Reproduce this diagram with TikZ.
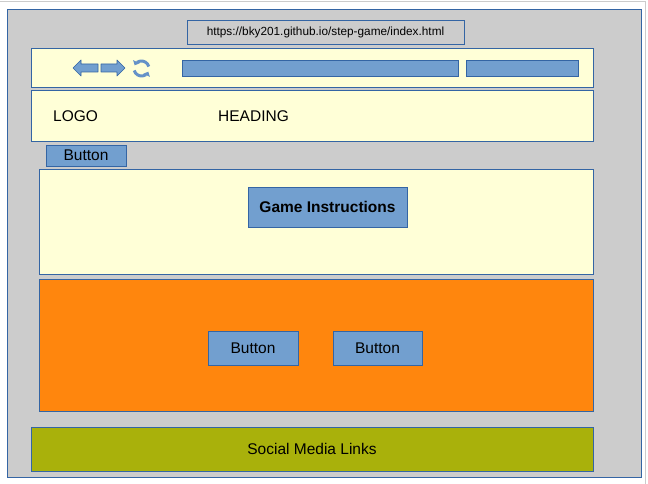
\documentclass[tikz,border=0pt]{standalone}
\usepackage{fontspec}
\setmainfont{Liberation Sans}
\usetikzlibrary{arrows.meta}
\definecolor{edge}{HTML}{3465A4}
\definecolor{grayfill}{HTML}{CCCCCC}
\definecolor{paleyellow}{HTML}{FFFFD7}
\definecolor{btnblue}{HTML}{729FCF}
\definecolor{iconblue}{HTML}{6592C8}
\definecolor{orangefill}{HTML}{FF860D}
\definecolor{olivefill}{HTML}{A9B10B}
\begin{document}
\begin{tikzpicture}[x=1pt,y=-1pt,
  box/.style={draw=edge, line width=0.8pt, anchor=north west, inner sep=0pt, outer sep=0pt},
  graybox/.style={box, fill=grayfill},
  yellowbox/.style={box, fill=paleyellow},
  bluebox/.style={box, fill=btnblue},
  lbl/.style={font=\fontsize{15.5}{18}\selectfont, text=black, inner sep=0pt},
  icon/.style={draw=edge, fill=btnblue, line width=0.6pt, line join=round},
  refresh/.style={draw=iconblue, line width=3pt, -{Triangle[width=7pt,length=4pt]}}
]
\useasboundingbox (0,0) rectangle (648,484);
\draw[black!20, line width=0.8pt] (0,1) -- (645,1) -- (645,484);
% outer page
\node[graybox, minimum width=634, minimum height=468] (page) at (7,9) {};
% URL box
\node[graybox, minimum width=277, minimum height=24] (url) at (187,20) {};
\node[font=\fontsize{11.8}{14}\selectfont, inner sep=0pt] (urltext) at (url.center) {https://bky201.github.io/step-game/index.html};
% navigation bar
\node[yellowbox, minimum width=562, minimum height=39] (nav) at (31,48) {};
\node[bluebox, minimum width=276, minimum height=16] (addr) at (182,60) {};
\node[bluebox, minimum width=112, minimum height=16] (search) at (466,60) {};
% back / forward arrows
\draw[icon] (73,68) -- (81,60) -- (81,64) -- (98,64) -- (98,72) -- (81,72) -- (81,76) -- cycle;
\draw[icon] (125,68) -- (117,60) -- (117,64) -- (101,64) -- (101,72) -- (117,72) -- (117,76) -- cycle;
% refresh icon
\coordinate (rc) at (141.5,68.5);
\draw[refresh] ([shift={(165:7.5)}]rc) arc[start angle=165, end angle=25, radius=7.5];
\draw[refresh] ([shift={(-15:7.5)}]rc) arc[start angle=-15, end angle=-155, radius=7.5];
% header
\node[yellowbox, minimum width=562, minimum height=51] (header) at (31,90) {};
\node[lbl, anchor=west] (logo) at (53,116) {LOGO};
\node[lbl, anchor=west] (heading) at (218,116) {HEADING};
% button
\node[bluebox, minimum width=80, minimum height=21] (btn) at (46,145) {};
\node[lbl] at (btn.center) {Button};
% instructions
\node[yellowbox, minimum width=554, minimum height=105] (instr) at (39,169) {};
\node[bluebox, minimum width=159, minimum height=40] (gi) at (248,187) {};
\node[lbl, font=\fontsize{15.5}{18}\selectfont\bfseries] at (gi.center) {Game Instructions};
% game area
\node[box, fill=orangefill, minimum width=554, minimum height=132] (game) at (39,279) {};
\node[bluebox, minimum width=90, minimum height=34] (b1) at (208,331) {};
\node[lbl] at (b1.center) {Button};
\node[bluebox, minimum width=89, minimum height=34] (b2) at (333,331) {};
\node[lbl] at (b2.center) {Button};
% footer
\node[box, fill=olivefill, minimum width=562, minimum height=44] (footer) at (31,427) {};
\node[lbl] at (footer.center) {Social Media Links};
\end{tikzpicture}
\end{document}
